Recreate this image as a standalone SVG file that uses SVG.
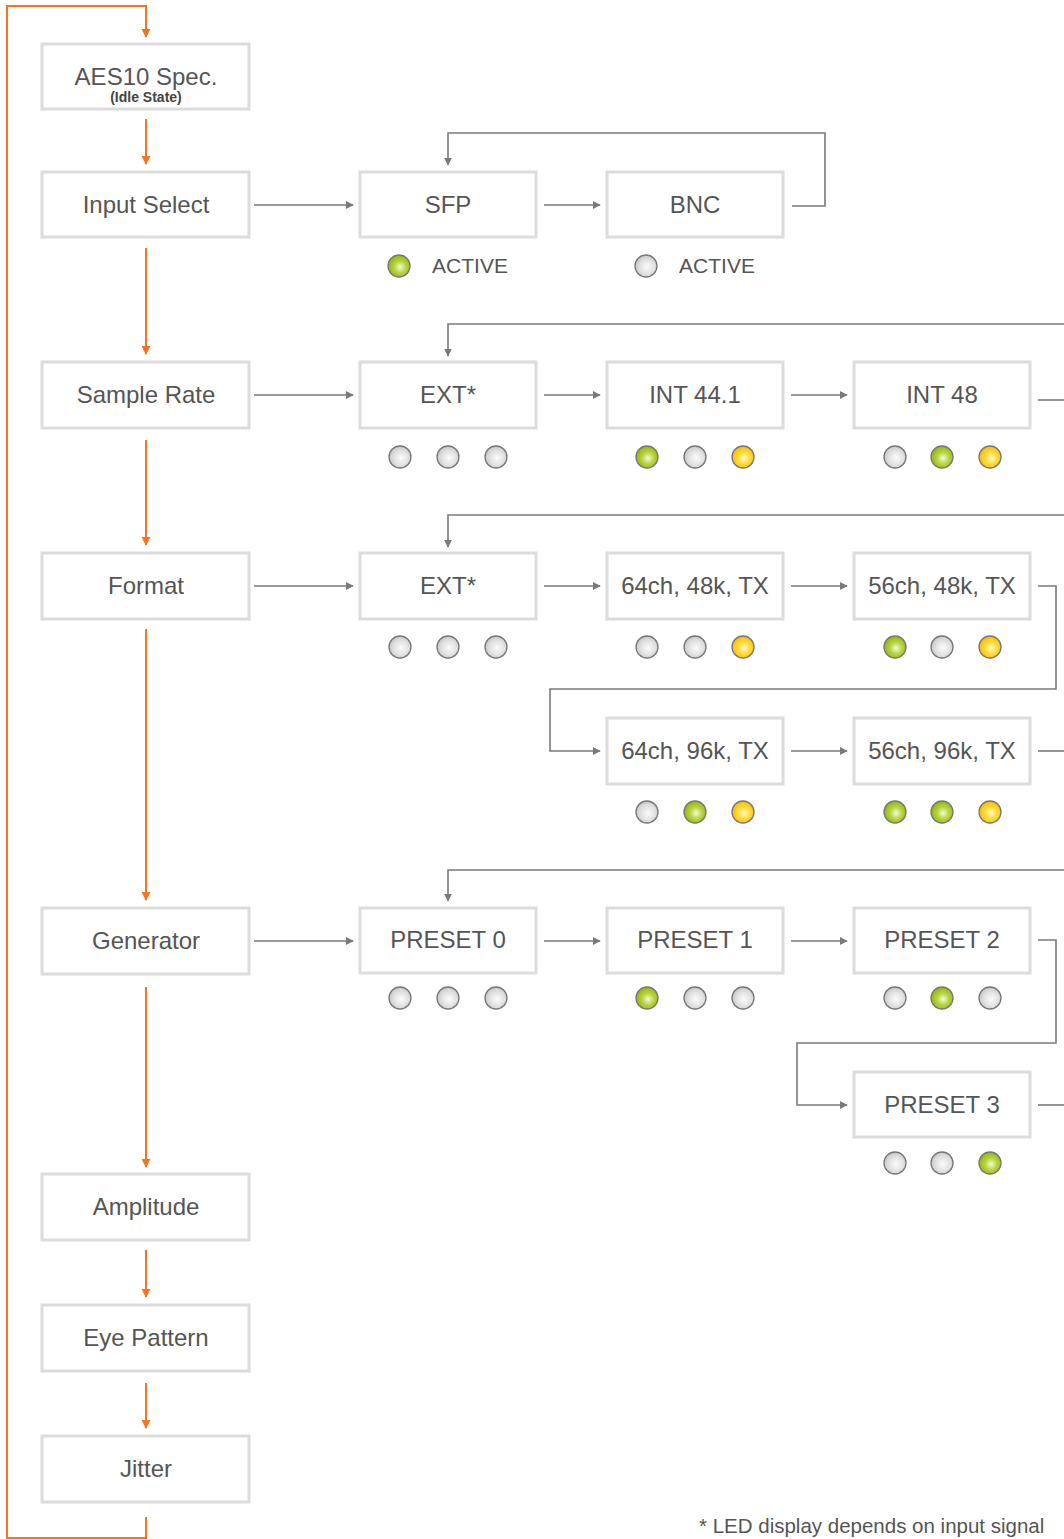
<svg xmlns="http://www.w3.org/2000/svg" width="1064" height="1539" viewBox="0 0 1064 1539">
<defs>
<style>
.box{fill:#fff;stroke:#dcdcdc;stroke-width:3}
.t{font-family:"Liberation Sans",Arial,sans-serif;font-size:24px;fill:#555;text-anchor:middle}
.s{font-family:"Liberation Sans",Arial,sans-serif;font-size:14px;font-weight:bold;fill:#444;text-anchor:middle}
.lab{font-family:"Liberation Sans",Arial,sans-serif;font-size:21px;fill:#555;text-anchor:middle}
.foot{font-family:"Liberation Sans",Arial,sans-serif;font-size:20.5px;fill:#555}
.o{fill:none;stroke:#f27521;stroke-width:2}
.g{fill:none;stroke:#7a7a7a;stroke-width:1.6}
.ledg{fill:url(#gg);stroke:#777;stroke-width:1.3}
.ledx{fill:url(#gx);stroke:#777;stroke-width:1.3}
.ledy{fill:url(#gy);stroke:#777;stroke-width:1.3}
</style>
<radialGradient id="gg" cx="0.55" cy="0.55" r="0.6"><stop offset="0" stop-color="#f4fbd8"/><stop offset="0.45" stop-color="#b7d443"/><stop offset="1" stop-color="#8fb000"/></radialGradient>
<radialGradient id="gx" cx="0.55" cy="0.55" r="0.6"><stop offset="0" stop-color="#fbfbfb"/><stop offset="0.5" stop-color="#e4e4e4"/><stop offset="1" stop-color="#c4c4c4"/></radialGradient>
<radialGradient id="gy" cx="0.55" cy="0.55" r="0.6"><stop offset="0" stop-color="#fff8cf"/><stop offset="0.45" stop-color="#ffdb3a"/><stop offset="1" stop-color="#f2b800"/></radialGradient>
<marker id="ao" viewBox="0 0 10 10" refX="9" refY="5" markerWidth="4.5" markerHeight="4.5" orient="auto" markerUnits="strokeWidth"><path d="M0,0 L10,5 L0,10 z" fill="#f27521"/></marker>
<marker id="ag" viewBox="0 0 10 10" refX="9" refY="5" markerWidth="5" markerHeight="5" orient="auto" markerUnits="strokeWidth"><path d="M0,0 L10,5 L0,10 z" fill="#7a7a7a"/></marker>
</defs>
<rect width="1064" height="1539" fill="#fff"/>

<g id="connectors">
<path class="o" d="M146,1517 V1538 H7 V6 H146 V37" marker-end="url(#ao)"/>
<path class="o" d="M146,119 V164" marker-end="url(#ao)"/>
<path class="o" d="M146,248 V354" marker-end="url(#ao)"/>
<path class="o" d="M146,440 V545" marker-end="url(#ao)"/>
<path class="o" d="M146,629 V900" marker-end="url(#ao)"/>
<path class="o" d="M146,987 V1167" marker-end="url(#ao)"/>
<path class="o" d="M146,1250 V1297" marker-end="url(#ao)"/>
<path class="o" d="M146,1383 V1428" marker-end="url(#ao)"/>
<path class="g" d="M254,205 H353" marker-end="url(#ag)"/>
<path class="g" d="M544,205 H600" marker-end="url(#ag)"/>
<path class="g" d="M792,206 H825 V133 H448 V165" marker-end="url(#ag)"/>
<path class="g" d="M254,395 H353" marker-end="url(#ag)"/>
<path class="g" d="M544,395 H600" marker-end="url(#ag)"/>
<path class="g" d="M791,395 H847" marker-end="url(#ag)"/>
<path class="g" d="M1038,400 H1064"/>
<path class="g" d="M1064,324 H448 V356" marker-end="url(#ag)"/>
<path class="g" d="M254,586 H353" marker-end="url(#ag)"/>
<path class="g" d="M544,586 H600" marker-end="url(#ag)"/>
<path class="g" d="M791,586 H847" marker-end="url(#ag)"/>
<path class="g" d="M1064,515 H448 V547" marker-end="url(#ag)"/>
<path class="g" d="M1038,586 H1056 V689 H550 V751 H600" marker-end="url(#ag)"/>
<path class="g" d="M791,751 H847" marker-end="url(#ag)"/>
<path class="g" d="M1038,751 H1064"/>
<path class="g" d="M254,941 H353" marker-end="url(#ag)"/>
<path class="g" d="M544,941 H600" marker-end="url(#ag)"/>
<path class="g" d="M791,941 H847" marker-end="url(#ag)"/>
<path class="g" d="M1064,870 H448 V901" marker-end="url(#ag)"/>
<path class="g" d="M1038,940 H1056 V1043 H797 V1105 H847" marker-end="url(#ag)"/>
<path class="g" d="M1038,1105 H1064"/>
</g>

<g id="n-aes10"><rect class="box" x="42" y="44" width="207" height="65"/><text class="t" x="146" y="85">AES10 Spec.</text><text class="s" x="146" y="102">(Idle State)</text></g>
<g id="n-input"><rect class="box" x="42" y="172" width="207" height="65"/><text class="t" x="146" y="213">Input Select</text></g>
<g id="n-rate"><rect class="box" x="42" y="362" width="207" height="66"/><text class="t" x="146" y="403">Sample Rate</text></g>
<g id="n-format"><rect class="box" x="42" y="553" width="207" height="66"/><text class="t" x="146" y="594">Format</text></g>
<g id="n-gen"><rect class="box" x="42" y="908" width="207" height="66"/><text class="t" x="146" y="949">Generator</text></g>
<g id="n-amp"><rect class="box" x="42" y="1174" width="207" height="66"/><text class="t" x="146" y="1215">Amplitude</text></g>
<g id="n-eye"><rect class="box" x="42" y="1305" width="207" height="66"/><text class="t" x="146" y="1346">Eye Pattern</text></g>
<g id="n-jitter"><rect class="box" x="42" y="1436" width="207" height="66"/><text class="t" x="146" y="1477">Jitter</text></g>

<g id="n-sfp"><rect class="box" x="360" y="172" width="176" height="65"/><text class="t" x="448" y="213">SFP</text>
<circle class="ledg" cx="399" cy="266" r="11"/><text class="lab" x="470" y="273">ACTIVE</text></g>
<g id="n-bnc"><rect class="box" x="607" y="172" width="176" height="65"/><text class="t" x="695" y="213">BNC</text>
<circle class="ledx" cx="646" cy="266" r="11"/><text class="lab" x="717" y="273">ACTIVE</text></g>

<g id="n-sr-ext"><rect class="box" x="360" y="362" width="176" height="66"/><text class="t" x="448" y="403">EXT*</text>
<circle class="ledx" cx="400" cy="457" r="11"/><circle class="ledx" cx="448" cy="457" r="11"/><circle class="ledx" cx="496" cy="457" r="11"/></g>
<g id="n-sr-441"><rect class="box" x="607" y="362" width="176" height="66"/><text class="t" x="695" y="403">INT 44.1</text>
<circle class="ledg" cx="647" cy="457" r="11"/><circle class="ledx" cx="695" cy="457" r="11"/><circle class="ledy" cx="743" cy="457" r="11"/></g>
<g id="n-sr-48"><rect class="box" x="854" y="362" width="176" height="66"/><text class="t" x="942" y="403">INT 48</text>
<circle class="ledx" cx="895" cy="457" r="11"/><circle class="ledg" cx="942" cy="457" r="11"/><circle class="ledy" cx="990" cy="457" r="11"/></g>

<g id="n-f-ext"><rect class="box" x="360" y="553" width="176" height="66"/><text class="t" x="448" y="594">EXT*</text>
<circle class="ledx" cx="400" cy="647" r="11"/><circle class="ledx" cx="448" cy="647" r="11"/><circle class="ledx" cx="496" cy="647" r="11"/></g>
<g id="n-f-6448"><rect class="box" x="607" y="553" width="176" height="66"/><text class="t" x="695" y="594">64ch, 48k, TX</text>
<circle class="ledx" cx="647" cy="647" r="11"/><circle class="ledx" cx="695" cy="647" r="11"/><circle class="ledy" cx="743" cy="647" r="11"/></g>
<g id="n-f-5648"><rect class="box" x="854" y="553" width="176" height="66"/><text class="t" x="942" y="594">56ch, 48k, TX</text>
<circle class="ledg" cx="895" cy="647" r="11"/><circle class="ledx" cx="942" cy="647" r="11"/><circle class="ledy" cx="990" cy="647" r="11"/></g>
<g id="n-f-6496"><rect class="box" x="607" y="718" width="176" height="66"/><text class="t" x="695" y="759">64ch, 96k, TX</text>
<circle class="ledx" cx="647" cy="812" r="11"/><circle class="ledg" cx="695" cy="812" r="11"/><circle class="ledy" cx="743" cy="812" r="11"/></g>
<g id="n-f-5696"><rect class="box" x="854" y="718" width="176" height="66"/><text class="t" x="942" y="759">56ch, 96k, TX</text>
<circle class="ledg" cx="895" cy="812" r="11"/><circle class="ledg" cx="942" cy="812" r="11"/><circle class="ledy" cx="990" cy="812" r="11"/></g>

<g id="n-p0"><rect class="box" x="360" y="908" width="176" height="65"/><text class="t" x="448" y="948">PRESET 0</text>
<circle class="ledx" cx="400" cy="998" r="11"/><circle class="ledx" cx="448" cy="998" r="11"/><circle class="ledx" cx="496" cy="998" r="11"/></g>
<g id="n-p1"><rect class="box" x="607" y="908" width="176" height="65"/><text class="t" x="695" y="948">PRESET 1</text>
<circle class="ledg" cx="647" cy="998" r="11"/><circle class="ledx" cx="695" cy="998" r="11"/><circle class="ledx" cx="743" cy="998" r="11"/></g>
<g id="n-p2"><rect class="box" x="854" y="908" width="176" height="65"/><text class="t" x="942" y="948">PRESET 2</text>
<circle class="ledx" cx="895" cy="998" r="11"/><circle class="ledg" cx="942" cy="998" r="11"/><circle class="ledx" cx="990" cy="998" r="11"/></g>
<g id="n-p3"><rect class="box" x="854" y="1072" width="176" height="65"/><text class="t" x="942" y="1113">PRESET 3</text>
<circle class="ledx" cx="895" cy="1163" r="11"/><circle class="ledx" cx="942" cy="1163" r="11"/><circle class="ledg" cx="990" cy="1163" r="11"/></g>

<text class="foot" x="699" y="1533">* LED display depends on input signal</text>
</svg>
